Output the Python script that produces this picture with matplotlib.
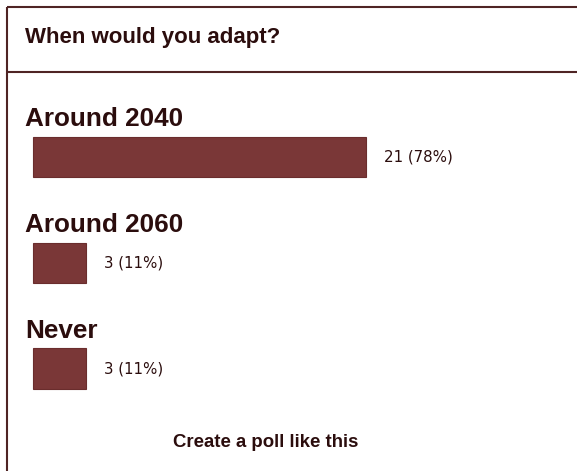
import matplotlib.pyplot as plt

# poll results
question = 'When would you adapt?'
options = ['Around 2040', 'Around 2060', 'Never']
votes = [21, 3, 3]
percents = [78, 11, 11]

bar_color = '#7a3737'
edge_color = '#6a2d2d'
text_color = '#2b0d0d'
line_color = '#4f2424'

fig = plt.figure(figsize=(5.77, 4.71), dpi=100)
ax = fig.add_axes([0, 0, 1, 1])
ax.set_xlim(0, 577)
ax.set_ylim(471, 0)
ax.axis('off')

# box frame: top, left and header rule
ax.plot([7, 577], [7, 7], color=line_color, lw=1.5, solid_capstyle='butt')
ax.plot([7, 7], [7, 471], color=line_color, lw=1.5, solid_capstyle='butt')
ax.plot([7, 577], [72, 72], color=line_color, lw=1.5, solid_capstyle='butt')

ax.text(25, 43, question, fontsize=16, fontweight='bold', family='Liberation Sans',
        color=text_color, va='baseline', ha='left')

# bar length: small base width plus percentage share
px_per_pct = 4.19
base_px = 7
left = 32.5
centers = [157 + i * 105.75 for i in range(len(options))]
widths = [base_px + p * px_per_pct for p in percents]

ax.barh(centers, widths, left=left, height=40.5, color=bar_color,
        edgecolor=edge_color, linewidth=0.8)

for y, opt, n, p, w in zip(centers, options, votes, percents, widths):
    ax.text(25, y - 31, opt, fontsize=18.8, fontweight='bold', family='Liberation Sans',
            color=text_color, va='baseline', ha='left')
    ax.text(left + w + 18, y, f'{n} ({p}%)', fontsize=10.8, family='DejaVu Sans',
            color=text_color, va='center', ha='left')

ax.text(266, 447, 'Create a poll like this', fontsize=13.4, fontweight='bold',
        family='Liberation Sans', color=text_color, va='baseline', ha='center')

fig.savefig('out.png', dpi=100)
